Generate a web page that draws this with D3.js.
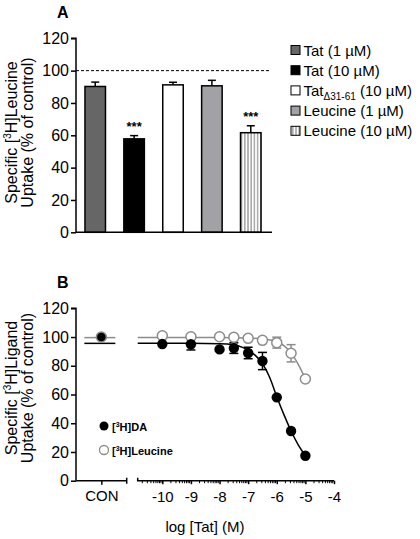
<!DOCTYPE html>
<html><head><meta charset="utf-8">
<script src="https://cdn.jsdelivr.net/npm/d3@7"></script>
<style>body{margin:0;background:#fff}svg{display:block}text{font-family:Arial,"Liberation Sans",sans-serif}</style>
</head><body>
<svg id="c" width="420" height="539"></svg>
<script>
// ---------- Panel A data ----------
const barCats = ["Tat (1 µM)", "Tat (10 µM)", "TatΔ31-61 (10 µM)", "Leucine (1 µM)", "Leucine (10 µM)"];
const barValues = [90.2, 57.8, 91.2, 90.6, 61.6];
const barErrors = [2.7, 2.0, 1.6, 3.4, 4.3];
const barSig = ["", "***", "", "", "***"];
const yTicksA = [0, 20, 40, 60, 80, 100, 120];

// ---------- Panel B data ----------
const logTat = [-10, -9, -8, -7.5, -7, -6.5, -6, -5.5, -5];
const daValues = [95.1, 95.0, 91.4, 92.3, 88.9, 83.3, 58.0, 34.6, 17.4];
const daErrors = [0, 4.0, 0, 3.7, 4.0, 6.0, 0, 0, 0];
const leuValues = [100.9, 100.2, 100.2, 99.8, 99.1, 97.7, 96.1, 88.7, 70.8];
const leuErrors = [0, 0, 0, 0, 0, 0, 3.8, 6.0, 0];
const daCon = 100, leuCon = 100;
// fitted curves
const daFitX = [-10.86, -9, -8, -7.5, -7.2, -7, -6.75, -6.5, -6.25, -6, -5.75, -5.5, -5.25, -5];
const daFitY = [95.6, 95.6, 95.4, 94.6, 92.8, 90.8, 87.2, 81.5, 72, 58.5, 46, 34.6, 25, 17.4];
const leuFitX = [-10.86, -8, -7, -6.5, -6, -5.75, -5.5, -5.25, -5];
const leuFitY = [99.6, 99.6, 99.3, 98.6, 96.7, 94, 89, 81, 71];
const xTicksB = [-10, -9, -8, -7, -6, -5, -4];
const yTicksB = [0, 20, 40, 60, 80, 100, 120];

const svg = d3.select("#c");
const FONT = 'Arial,"Liberation Sans",sans-serif';

// ================= PANEL A =================
const yA = d3.scaleLinear().domain([0, 120]).range([232.3, 38.3]);
const xA = d3.scaleBand().domain(barCats).range([75, 271]).paddingInner(0.434).paddingOuter(0.237);
const gA = svg.append("g");

// stripe pattern
const defs = svg.append("defs");
const pat = defs.append("pattern").attr("id", "stripes").attr("patternUnits", "userSpaceOnUse")
  .attr("width", 3.2).attr("height", 10);
pat.append("rect").attr("width", 3.2).attr("height", 10).attr("fill", "#fff");
pat.append("line").attr("x1", 1.6).attr("x2", 1.6).attr("y1", 0).attr("y2", 10).attr("stroke", "#777").attr("stroke-width", 1);

const fills = ["#666666", "#000000", "#ffffff", "#a2a2a6", "url(#stripes)"];

// dashed 100% line
gA.append("line").attr("x1", 76).attr("x2", 270).attr("y1", yA(100)).attr("y2", yA(100))
  .attr("stroke", "#000").attr("stroke-width", 1).attr("stroke-dasharray", "3,2");

// error bars (upward)
barCats.forEach((c, i) => {
  const cx = xA(c) + xA.bandwidth() / 2;
  gA.append("line").attr("x1", cx).attr("x2", cx).attr("y1", yA(barValues[i])).attr("y2", yA(barValues[i] + barErrors[i])).attr("stroke", "#000").attr("stroke-width", 1.5);
  gA.append("line").attr("x1", cx - 4).attr("x2", cx + 4).attr("y1", yA(barValues[i] + barErrors[i])).attr("y2", yA(barValues[i] + barErrors[i])).attr("stroke", "#000").attr("stroke-width", 1.5);
});
// bars
gA.selectAll("rect.bar").data(barValues).join("rect").attr("class", "bar")
  .attr("x", (d, i) => xA(barCats[i]) + 0.75).attr("width", xA.bandwidth() - 1.5)
  .attr("y", d => yA(d)).attr("height", d => yA(0) - yA(d))
  .attr("fill", (d, i) => fills[i]).attr("stroke", "#000").attr("stroke-width", 1.5);
// significance
barCats.forEach((c, i) => {
  if (!barSig[i]) return;
  gA.append("text").attr("x", xA(c) + xA.bandwidth() / 2).attr("y", yA(barValues[i] + barErrors[i]) - 5)
    .attr("text-anchor", "middle").attr("font-size", 13).attr("font-weight", "bold").text(barSig[i]);
});
// axes
const axA = d3.axisLeft(yA).tickValues(yTicksA).tickSize(5).tickPadding(2);
const gyA = gA.append("g").attr("transform", "translate(76,0)").call(axA);
gyA.select(".domain").attr("stroke-width", 1.5).attr("d", `M-5,${yA(120)}H0V${yA(0)}`);
gyA.selectAll(".tick line").attr("stroke-width", 1.5);
gyA.selectAll("text").attr("font-size", 16).attr("font-family", FONT).attr("fill", "#000");
gA.append("line").attr("x1", 76).attr("x2", 272).attr("y1", yA(0)).attr("y2", yA(0)).attr("stroke", "#000").attr("stroke-width", 1.5);

gA.append("text").attr("x", 57).attr("y", 18).attr("font-size", 16).attr("font-weight", "bold").text("A");

// y label
function yLabel(g, cy, line1Pre, line1Post) {
  const t1 = g.append("text").attr("transform", `translate(17,${cy}) rotate(-90)`).attr("text-anchor", "middle").attr("font-size", 16);
  t1.append("tspan").text(line1Pre + " [");
  t1.append("tspan").attr("font-size", 10).attr("dy", -6).text("3");
  t1.append("tspan").attr("dy", 6).text("H]" + line1Post);
  g.append("text").attr("transform", `translate(33,${cy}) rotate(-90)`).attr("text-anchor", "middle").attr("font-size", 16).text("Uptake (% of control)");
}
yLabel(gA, 132.5, "Specific", "Leucine");

// legend A
const legA = gA.append("g");
barCats.forEach((c, i) => {
  const y = 50 + i * 20.2;
  legA.append("rect").attr("x", 291).attr("y", y - 4.5).attr("width", 9).attr("height", 9)
    .attr("fill", fills[i]).attr("stroke", "#000").attr("stroke-width", 1);
  const t = legA.append("text").attr("x", 303.5).attr("y", y + 5.5).attr("font-size", 15);
  if (c.startsWith("TatΔ")) {
    t.append("tspan").text("Tat");
    t.append("tspan").attr("font-size", 10).attr("dy", 4).text("Δ31-61");
    t.append("tspan").attr("dy", -4).text(" (10 µM)");
  } else t.text(c);
});

// ================= PANEL B =================
const yB = d3.scaleLinear().domain([0, 120]).range([480.7, 308.3]);
const xB = d3.scaleLinear().domain([-10.86, -4]).range([137.7, 334]);
const xCon = d3.scalePoint().domain(["CON"]).range([76, 126.7]).padding(0.5);
const gB = svg.append("g");

gB.append("text").attr("x", 57).attr("y", 288).attr("font-size", 16).attr("font-weight", "bold").text("B");

// y axis
const gyB = gB.append("g").attr("transform", "translate(76,0)").call(d3.axisLeft(yB).tickValues(yTicksB).tickSize(5).tickPadding(2));
gyB.select(".domain").attr("stroke-width", 1.5).attr("d", `M-5,${yB(120)}H0V${yB(0)}`);
gyB.selectAll(".tick line").attr("stroke-width", 1.5);
gyB.selectAll("text").attr("font-size", 16).attr("font-family", FONT).attr("fill", "#000");
yLabel(gB, 388, "Specific", "Ligand");

// CON axis segment
const gCon = gB.append("g").attr("transform", `translate(0,${yB(0)})`).call(d3.axisBottom(xCon).tickSize(4).tickPadding(6));
gCon.select(".domain").attr("stroke-width", 1.5).attr("d", `M76,0H126.7M126.7,-3V3`);
gCon.selectAll(".tick line").attr("stroke-width", 1.5);
gCon.selectAll("text").attr("font-size", 15).attr("font-family", FONT).attr("fill", "#000");

// log axis segment
const minor = [];
for (let dec = -11; dec < -4; dec++) for (let k = 2; k <= 9; k++) {
  const v = dec + Math.log10(k);
  if (v >= xB.domain()[0] && v <= -4) minor.push(v);
}
const gLog = gB.append("g").attr("transform", `translate(0,${yB(0)})`);
gLog.append("path").attr("d", `M${xB.range()[0]},-3V0H${xB.range()[1]}`).attr("stroke", "#000").attr("stroke-width", 1.5).attr("fill", "none");
gLog.selectAll("line.minor").data(minor).join("line").attr("class", "minor")
  .attr("x1", d => xB(d)).attr("x2", d => xB(d)).attr("y1", 0).attr("y2", 2.5).attr("stroke", "#000").attr("stroke-width", 1);
const gxB = gLog.append("g").call(d3.axisBottom(xB).tickValues(xTicksB).tickSize(3.5).tickPadding(7).tickFormat(d => "-" + Math.abs(d)));
gxB.select(".domain").remove();
gxB.selectAll(".tick line").attr("stroke-width", 1.5);
gxB.selectAll("text").attr("font-size", 15).attr("font-family", FONT).attr("fill", "#000");

gB.append("text").attr("x", 205).attr("y", 532).attr("text-anchor", "middle").attr("font-size", 15).text("log [Tat] (M)");

// fit lines
const line = d3.line().x(d => xB(d[0])).y(d => yB(d[1])).curve(d3.curveMonotoneX);
const daFit = daFitX.map((x, i) => [x, daFitY[i]]);
const leuFit = leuFitX.map((x, i) => [x, leuFitY[i]]);
const GRAY = "#8c8c8c";
gB.append("path").attr("d", line(leuFit)).attr("fill", "none").attr("stroke", GRAY).attr("stroke-width", 1.5);
gB.append("path").attr("d", line(daFit)).attr("fill", "none").attr("stroke", "#000").attr("stroke-width", 1.5);
// CON segment lines
const conC = xCon("CON");
gB.append("line").attr("x1", conC - 17).attr("x2", conC + 14).attr("y1", yB(leuFitY[0])).attr("y2", yB(leuFitY[0])).attr("stroke", GRAY).attr("stroke-width", 1.5);
gB.append("line").attr("x1", conC - 17).attr("x2", conC + 14).attr("y1", yB(daFitY[0])).attr("y2", yB(daFitY[0])).attr("stroke", "#000").attr("stroke-width", 1.5);

// error bars
function errBars(vals, errs, color) {
  logTat.forEach((x, i) => {
    if (!errs[i]) return;
    const cx = xB(x), y1 = yB(vals[i] - errs[i]), y2 = yB(vals[i] + errs[i]);
    gB.append("line").attr("x1", cx).attr("x2", cx).attr("y1", y1).attr("y2", y2).attr("stroke", color).attr("stroke-width", 1.5);
    [y1, y2].forEach(y => gB.append("line").attr("x1", cx - 4.5).attr("x2", cx + 4.5).attr("y1", y).attr("y2", y).attr("stroke", color).attr("stroke-width", 1.5));
  });
}
errBars(leuValues, leuErrors, GRAY);
errBars(daValues, daErrors, "#000");

// points
gB.selectAll("circle.leu").data(leuValues).join("circle").attr("class", "leu")
  .attr("cx", (d, i) => xB(logTat[i])).attr("cy", d => yB(d)).attr("r", 5)
  .attr("fill", "#fff").attr("stroke", GRAY).attr("stroke-width", 1.5);
gB.selectAll("circle.da").data(daValues).join("circle").attr("class", "da")
  .attr("cx", (d, i) => xB(logTat[i])).attr("cy", d => yB(d)).attr("r", 5.2).attr("fill", "#000");
// CON points
gB.append("circle").attr("cx", conC).attr("cy", yB(daCon)).attr("r", 5).attr("fill", "#000");
gB.append("circle").attr("cx", conC).attr("cy", yB(leuCon)).attr("r", 5).attr("fill", "none").attr("stroke", GRAY).attr("stroke-width", 1.5);

// legend B
const legB = [["DA", "#000", true], ["Leucine", GRAY, false]];
legB.forEach((d, i) => {
  const y = 426 + i * 24;
  gB.append("circle").attr("cx", 104).attr("cy", y).attr("r", 4.5)
    .attr("fill", d[2] ? "#000" : "#fff").attr("stroke", d[1]).attr("stroke-width", d[2] ? 0 : 1.3);
  const t = gB.append("text").attr("x", 112).attr("y", y + 4.5).attr("font-size", 11).attr("font-weight", "bold");
  t.append("tspan").text("[");
  t.append("tspan").attr("font-size", 7).attr("dy", -4).text("3");
  t.append("tspan").attr("dy", 4).text("H]" + d[0]);
});
</script>
</body></html>
